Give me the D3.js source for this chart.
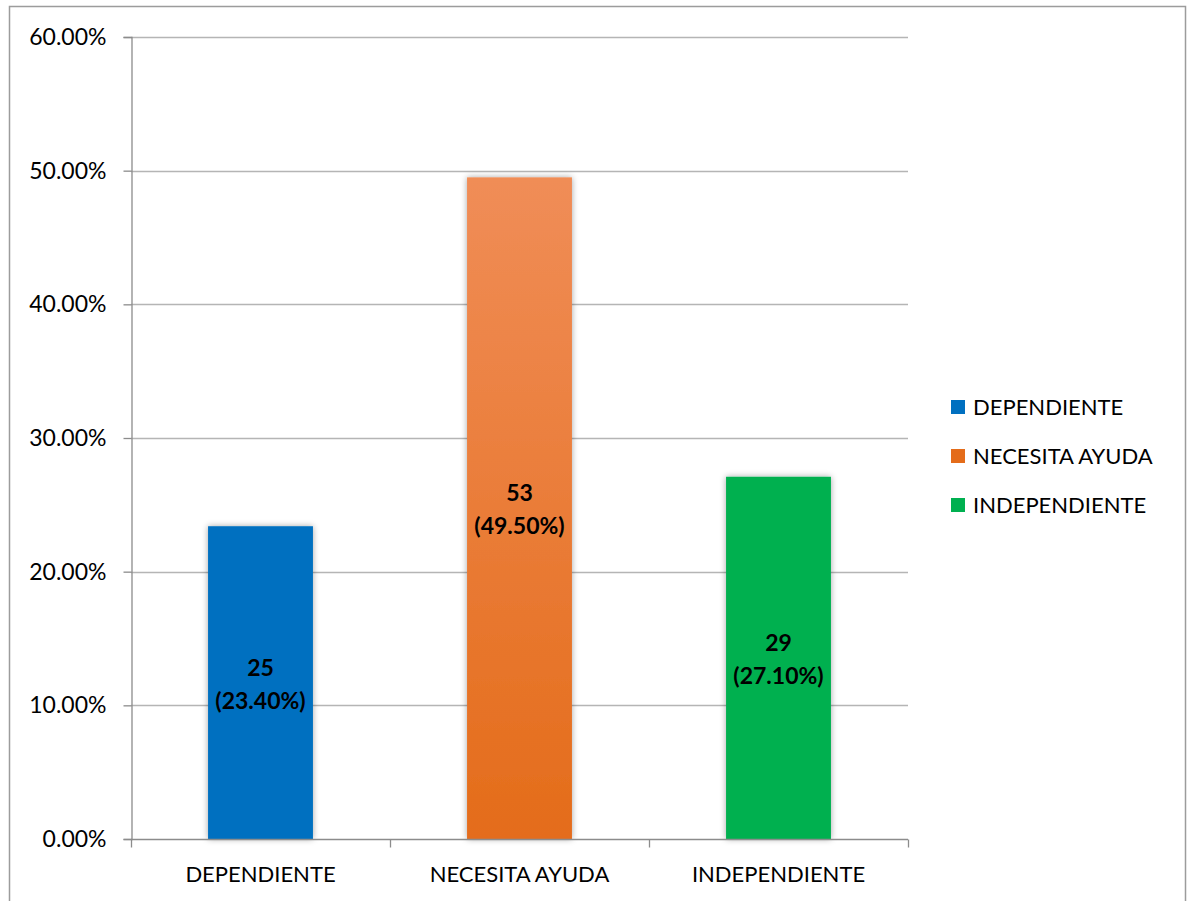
<!DOCTYPE html>
<html>
<head>
<meta charset="utf-8">
<script src="https://cdn.jsdelivr.net/npm/d3@7"></script>
<style>
  html, body { margin: 0; padding: 0; background: #fff; }
  svg { display: block; font-family: Lato, "Open Sans", sans-serif; }
</style>
</head>
<body>
<svg id="chart" width="1187" height="901"></svg>
<script>
// Categories, counts and shares
const categories = ["DEPENDIENTE", "NECESITA AYUDA", "INDEPENDIENTE"];
const counts = [25, 53, 29];
const shares = [0.234, 0.495, 0.271];
const yTicks = [0, 0.1, 0.2, 0.3, 0.4, 0.5, 0.6];
const colorTop = ["#0070C0", "#F08D57", "#00B050"];
const colorBottom = ["#0070C0", "#E46C1A", "#00B050"];

const svg = d3.select("#chart");
const plot = { left: 131, right: 908, top: 37, bottom: 839 };

// Outer frame
svg.append("rect")
  .attr("x", 9.5).attr("y", 6.5)
  .attr("width", 1176).attr("height", 910)
  .attr("fill", "#fff").attr("stroke", "#9c9c9c").attr("stroke-width", 1.5);

const defs = svg.append("defs");
const shadow = defs.append("filter").attr("id", "barShadow")
  .attr("x", "-20%").attr("y", "-5%").attr("width", "140%").attr("height", "110%");
shadow.append("feDropShadow")
  .attr("dx", 0).attr("dy", 0).attr("stdDeviation", 3)
  .attr("flood-color", "#000").attr("flood-opacity", 0.35);

categories.forEach((c, i) => {
  const g = defs.append("linearGradient").attr("id", "grad" + i)
    .attr("x1", 0).attr("y1", 0).attr("x2", 0).attr("y2", 1);
  g.append("stop").attr("offset", "0%").attr("stop-color", colorTop[i]);
  g.append("stop").attr("offset", "100%").attr("stop-color", colorBottom[i]);
});

const x = d3.scaleBand().domain(categories).range([plot.left, plot.right]).padding(0);
const y = d3.scaleLinear().domain([0, 0.6]).range([plot.bottom, plot.top]);
const barW = x.bandwidth() * 0.405;

// Gridlines
svg.append("g").selectAll("line").data(yTicks.filter(d => d > 0)).join("line")
  .attr("x1", plot.left).attr("x2", plot.right)
  .attr("y1", d => Math.round(y(d)) + 0.5).attr("y2", d => Math.round(y(d)) + 0.5)
  .attr("stroke", "#b5b5b5").attr("stroke-width", 1.3);

// Y axis
const yAxis = svg.append("g")
  .attr("transform", `translate(${plot.left + 0.5},0)`)
  .call(d3.axisLeft(y).tickValues(yTicks).tickFormat(d3.format(".2%")).tickSize(8).tickPadding(17));
yAxis.select(".domain").attr("stroke", "#8c8c8c").attr("stroke-width", 1.3);
yAxis.selectAll(".tick line").attr("stroke", "#8c8c8c").attr("stroke-width", 1.3);
yAxis.selectAll(".tick text").attr("font-size", 23).attr("fill", "#000")
  .attr("font-family", "Lato, sans-serif");

// Bars
svg.append("g").selectAll("rect").data(categories).join("rect")
  .attr("x", (d) => x(d) + (x.bandwidth() - barW) / 2)
  .attr("width", barW)
  .attr("y", (d, i) => y(shares[i]))
  .attr("height", (d, i) => y(0) - y(shares[i]))
  .attr("fill", (d, i) => `url(#grad${i})`)
  .attr("filter", "url(#barShadow)");

// X axis
const xAxis = svg.append("g")
  .attr("transform", `translate(0,${plot.bottom + 0.5})`);
xAxis.append("line")
  .attr("x1", plot.left).attr("x2", plot.right)
  .attr("stroke", "#8c8c8c").attr("stroke-width", 1.3);
const bounds = categories.map(c => x(c)).concat([plot.right]);
xAxis.selectAll("line.tk").data(bounds).join("line").attr("class", "tk")
  .attr("x1", d => Math.round(d) + 0.5).attr("x2", d => Math.round(d) + 0.5)
  .attr("y1", 0).attr("y2", 8)
  .attr("stroke", "#8c8c8c").attr("stroke-width", 1.3);
xAxis.selectAll("text").data(categories).join("text")
  .attr("x", d => x(d) + x.bandwidth() / 2)
  .attr("y", 42)
  .attr("text-anchor", "middle")
  .attr("font-size", 22).attr("fill", "#000")
  .text(d => d);

// Value labels
const lbl = svg.append("g").selectAll("text").data(categories).join("text")
  .attr("text-anchor", "middle")
  .attr("font-size", 23).attr("font-weight", "bold").attr("fill", "#000");
lbl.each(function(d, i) {
  const cx = x(d) + x.bandwidth() / 2;
  const cy = (y(shares[i]) + y(0)) / 2;
  const t = d3.select(this);
  t.append("tspan").attr("x", cx).attr("y", cy - 7).text(counts[i]);
  t.append("tspan").attr("x", cx).attr("y", cy + 26).text(`(${d3.format(".2%")(shares[i])})`);
});

// Legend
const legend = svg.append("g").selectAll("g").data(categories).join("g")
  .attr("transform", (d, i) => `translate(951,${407 + i * 49})`);
legend.append("rect")
  .attr("x", 0).attr("y", -7).attr("width", 14).attr("height", 14)
  .attr("fill", (d, i) => colorBottom[i]);
legend.append("text")
  .attr("x", 22).attr("y", 8)
  .attr("font-size", 22).attr("fill", "#000")
  .text(d => d);
</script>
</body>
</html>
